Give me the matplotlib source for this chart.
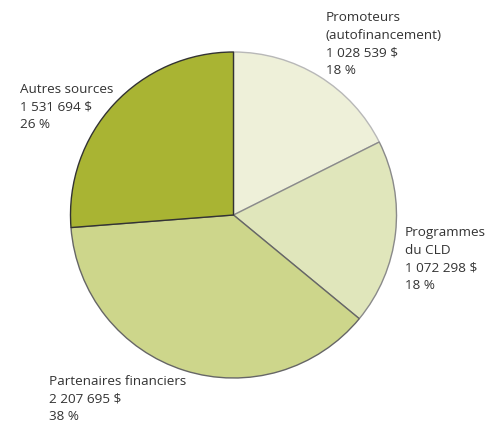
import matplotlib.pyplot as plt

labels = ['Promoteurs\n(autofinancement)', 'Programmes\ndu CLD', 'Partenaires financiers', 'Autres sources']
amounts = [1028539, 1072298, 2207695, 1531694]
amount_text = ['1 028 539 $', '1 072 298 $', '2 207 695 $', '1 531 694 $']
pct_text = ['18 %', '18 %', '38 %', '26 %']
colors = ['#eef0d9', '#e0e6bb', '#cdd68b', '#a9b433']
edges = ['#b8b8b8', '#8a8a8a', '#666666', '#333333']

# label anchor points (top-left, pixels)
label_pos = [(326, 11), (405, 226), (49, 375), (20, 83)]

plt.rcParams['font.family'] = ['Open Sans', 'DejaVu Sans']

fig = plt.figure(figsize=(5.02, 4.23), dpi=100)
ax = fig.add_axes([0, 0, 1, 1])
ax.axis('off')

wedges, _ = ax.pie(amounts, colors=colors, startangle=90, counterclock=False,
                   center=(233.5, 208), radius=163,
                   wedgeprops=dict(linewidth=1.0))
for w, ec in zip(wedges, edges):
    w.set_edgecolor(ec)

ax.set_xlim(0, 502)
ax.set_ylim(0, 423)
ax.set_aspect('equal')

for lab, amt, pct, (x, y) in zip(labels, amount_text, pct_text, label_pos):
    ax.text(x, 423 - y, lab + '\n' + amt + '\n' + pct, ha='left', va='top',
            fontsize=9.7, color='#333333', linespacing=1.47)

fig.savefig('out.png', dpi=100)
